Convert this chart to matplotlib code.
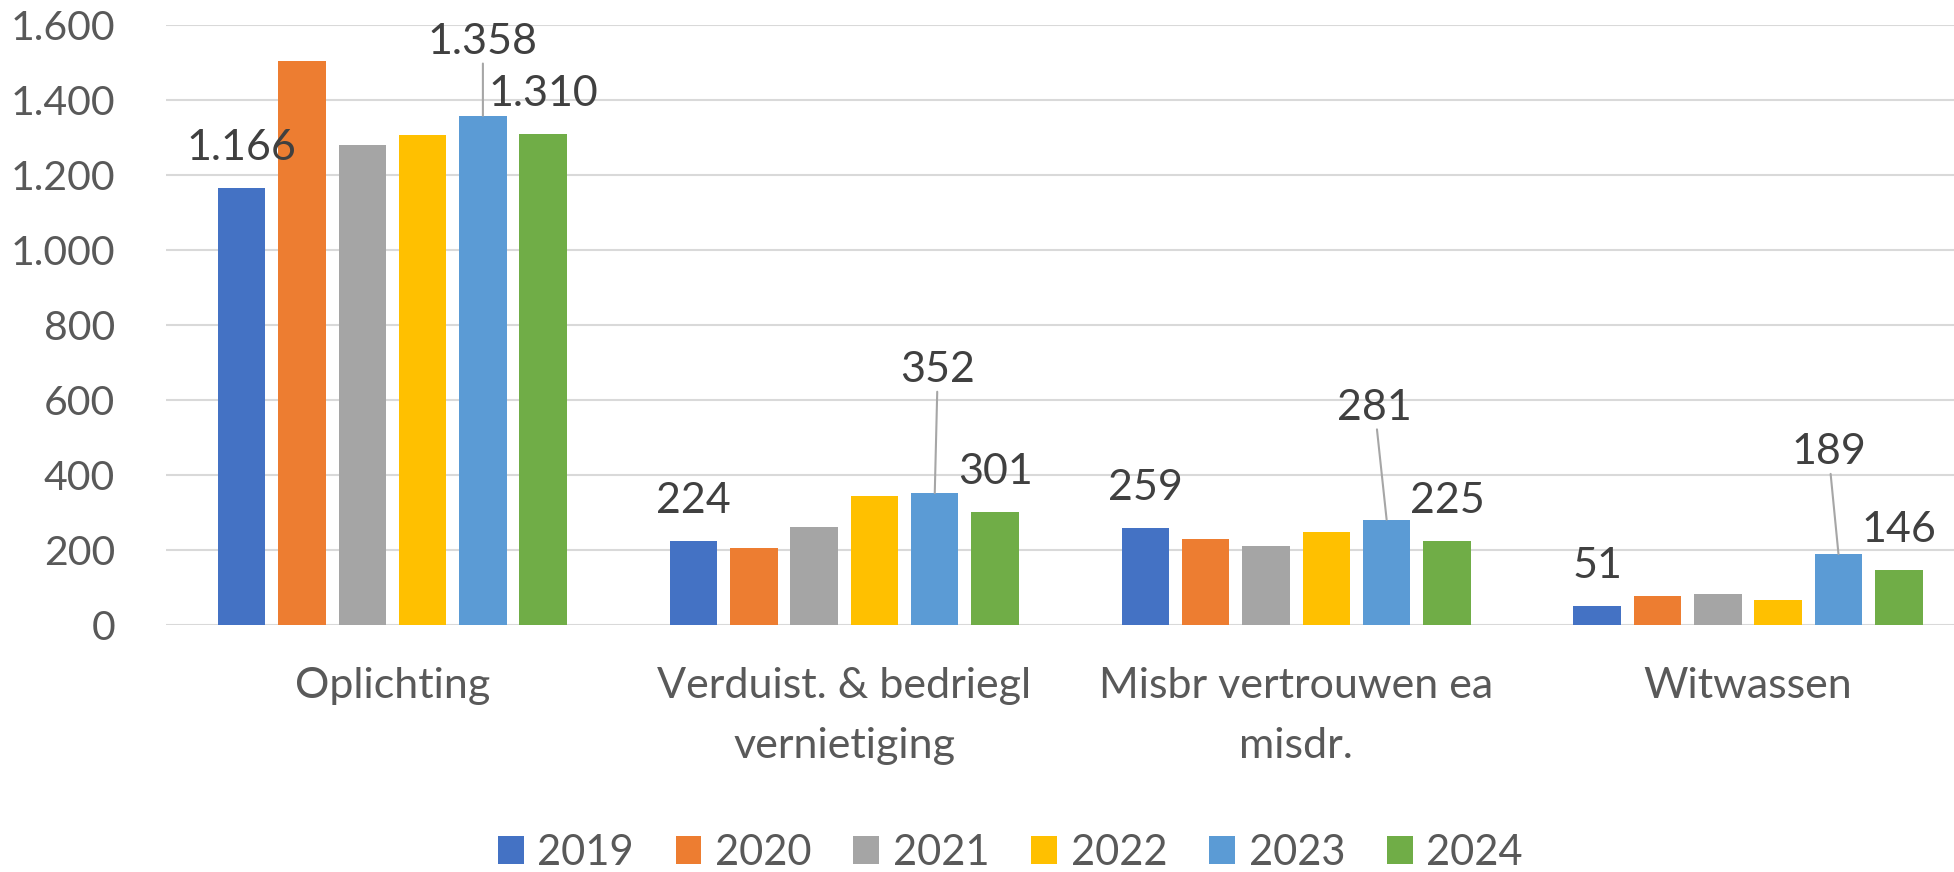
import matplotlib.pyplot as plt
import numpy as np

plt.rcParams['font.family'] = ['Lato', 'DejaVu Sans']

categories = ['Oplichting', 'Verduist. & bedriegl\nvernietiging',
              'Misbr vertrouwen ea\nmisdr.', 'Witwassen']
years = ['2019', '2020', '2021', '2022', '2023', '2024']
v2019 = [1166, 224, 259, 51]
v2020 = [1504, 205, 228, 76]
v2021 = [1280, 262, 211, 83]
v2022 = [1307, 344, 249, 67]
v2023 = [1358, 352, 281, 189]
v2024 = [1310, 301, 225, 146]
series = [v2019, v2020, v2021, v2022, v2023, v2024]
labelled_years = ['2019', '2023', '2024']

colors = ['#4472C4', '#ED7D31', '#A5A5A5', '#FFC000', '#5B9BD5', '#70AD47']
# label offsets (pixels) for the 2023 labels that sit higher with a leader line
offsets_2023 = [(0, 74), (3, 123), (-12, 112), (-10, 102)]

fig = plt.figure(figsize=(19.54, 8.72), dpi=100)
# plot area runs a little past the right edge, like the original
ax = fig.add_axes([0.0852, 0.2833, 0.925, 0.688])

x = np.arange(len(categories))
slot = 0.1335
width = 0.105

for i, (year, vals) in enumerate(zip(years, series)):
    pos = x + (i - 2.5) * slot
    ax.bar(pos, vals, width, color=colors[i], label=year, zorder=2)
    if year not in labelled_years:
        continue
    for j, (px, v) in enumerate(zip(pos, vals)):
        txt = f'{v:,}'.replace(',', '.')
        if year == '2023':
            dx, dy = offsets_2023[j]
            ax.annotate(txt, xy=(px, v), xytext=(dx, dy), textcoords='offset pixels',
                        ha='center', va='center', fontsize=31, color='#404040',
                        arrowprops=dict(arrowstyle='-', color='#a6a6a6', lw=1.5,
                                        shrinkA=0, shrinkB=0))
        else:
            ax.annotate(txt, xy=(px, v), xytext=(0, 40), textcoords='offset pixels',
                        ha='center', va='center', fontsize=31, color='#404040')

ax.set_ylim(0, 1600)
ax.set_xlim(-0.5, 3.5)
ax.set_yticks(range(0, 1601, 200))
ax.set_yticklabels([f'{t:,}'.replace(',', '.') for t in range(0, 1601, 200)])
ax.set_xticks(x)
ax.set_xticklabels(categories, linespacing=1.72)
ax.tick_params(axis='y', length=0, pad=37, labelsize=29.5, labelcolor='#595959')
ax.tick_params(axis='x', length=0, pad=30, labelsize=31, labelcolor='#595959')
ax.grid(axis='y', color='#d9d9d9', lw=1.5, zorder=0)
ax.set_axisbelow(True)
for s in ax.spines.values():
    s.set_visible(False)

fig.legend(loc='center', bbox_to_anchor=(0.517, 0.022), ncol=6, frameon=False,
           fontsize=30, labelcolor='#595959', handlelength=0.62, handleheight=0.65,
           handletextpad=0.33, columnspacing=1.0)

fig.savefig('out.png', dpi=100)
